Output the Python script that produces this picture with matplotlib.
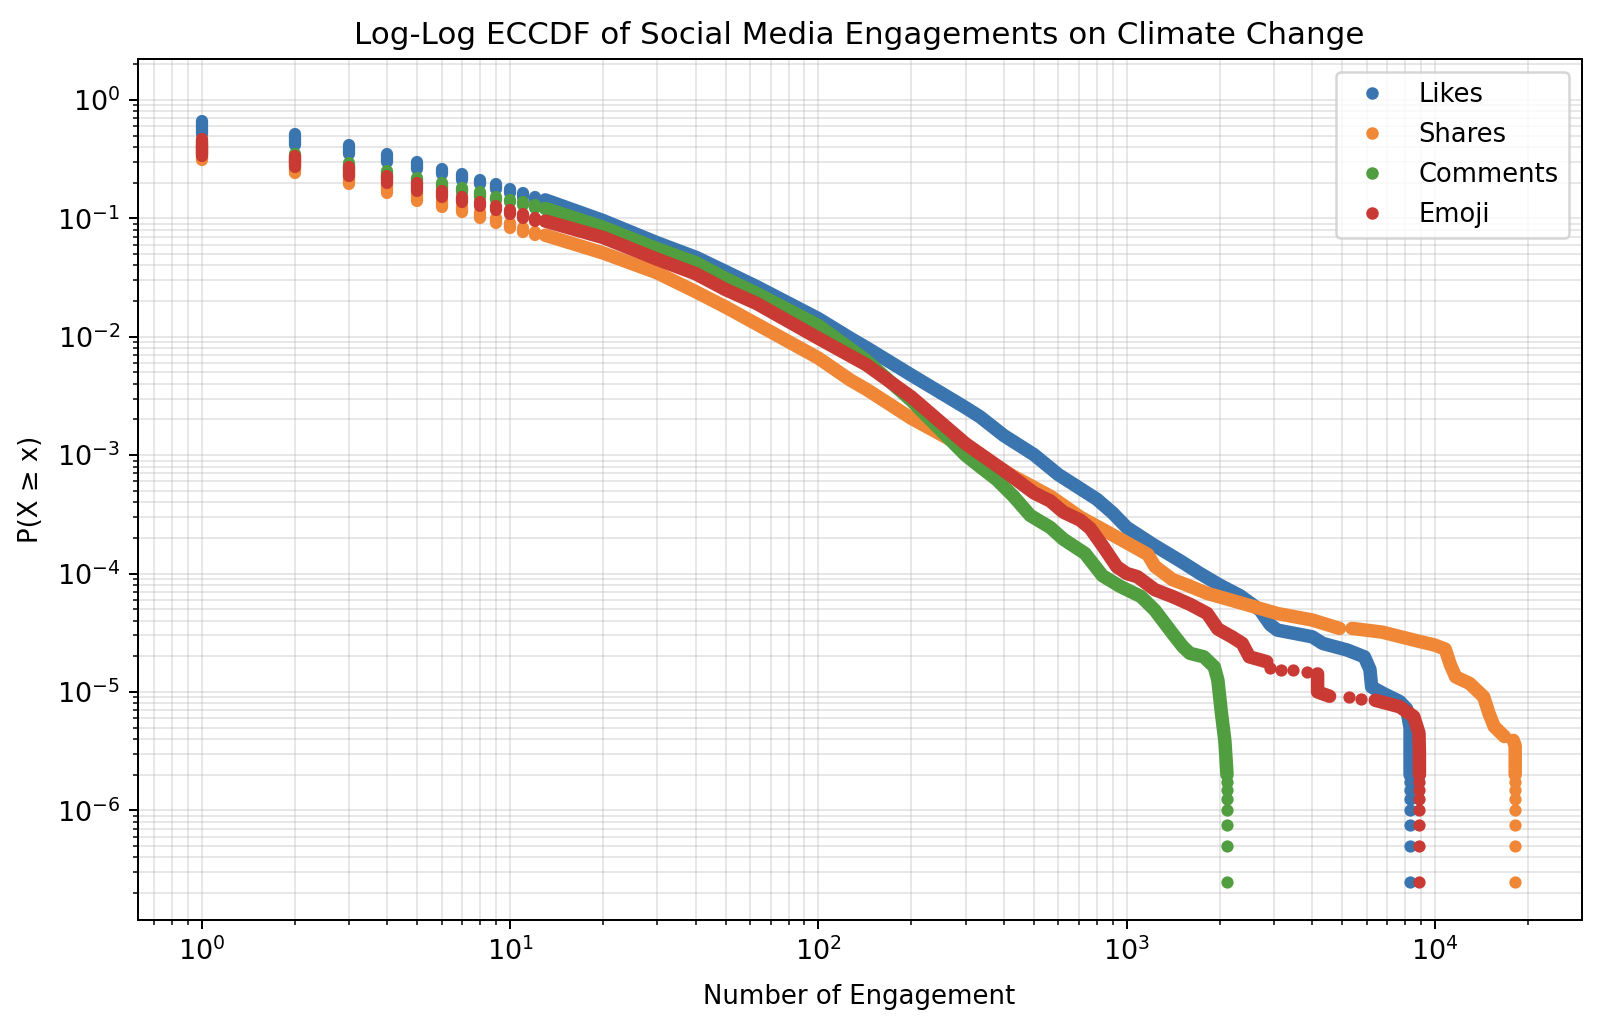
import matplotlib.pyplot as plt
from matplotlib.lines import Line2D

labels = ["Likes", "Shares", "Comments", "Emoji"]
colors = ["#3a75af", "#f08737", "#509e40", "#c83a33"]

# small counts: every integer value forms its own column of points, P(X >= x)
low_x = [1, 2, 3, 4, 5, 6, 7, 8, 9, 10, 11, 12, 13]
likes_low = [0.664, 0.515, 0.416, 0.349, 0.301, 0.261, 0.235, 0.211, 0.195, 0.176, 0.163, 0.152, 0.143]
shares_low = [0.42, 0.311, 0.240, 0.194, 0.163, 0.140, 0.125, 0.112, 0.100, 0.0908, 0.0833, 0.0762, 0.072]
comments_low = [0.45, 0.347, 0.291, 0.251, 0.220, 0.200, 0.181, 0.168, 0.152, 0.143, 0.138, 0.129, 0.121]
emoji_low = [0.465, 0.338, 0.273, 0.229, 0.198, 0.170, 0.152, 0.136, 0.128, 0.117, 0.109, 0.101, 0.0948]

# dense part of each curve (points merge into a band)
likes_x = [13, 20, 30, 40, 50, 63, 100, 127, 143, 200, 300, 334, 400, 500, 600, 700, 800, 900, 1000,
           1220, 1490, 1730, 2000, 2330, 2710, 2920, 3080, 4000, 4320, 5190, 5900, 6150, 6230, 6800,
           7680, 8090, 8300, 8300]
likes_p = [0.143, 0.0958, 0.0621, 0.0469, 0.0355, 0.0265, 0.0142, 0.0097, 0.0081, 0.00475, 0.00252,
           0.00211, 0.00146, 0.00101, 6.85e-4, 5.3e-4, 4.24e-4, 3.25e-4, 2.45e-4, 1.75e-4, 1.28e-4,
           1.0e-4, 8.0e-5, 6.5e-5, 4.9e-5, 3.7e-5, 3.33e-5, 2.92e-5, 2.57e-5, 2.26e-5, 1.98e-5,
           1.55e-5, 1.1e-5, 9.7e-6, 8.3e-6, 7.2e-6, 5.0e-6, 2.0e-6]

shares_x = [[13, 20, 30, 40, 50, 63, 100, 127, 143, 200, 300, 430, 565, 706, 906, 1170, 1234, 1406,
             1566, 1824, 2370, 3077, 3996, 4900],
            [5380, 6740, 8750, 9970, 10790, 11210, 11670, 12950, 14380, 14960, 15560, 16800],
            [17940, 18200, 18200]]
shares_p = [[0.072, 0.051, 0.0346, 0.0240, 0.0178, 0.0128, 0.0066, 0.0043, 0.0036, 0.00205, 1.15e-3,
             6.6e-4, 4.5e-4, 3.0e-4, 2.1e-4, 1.45e-4, 1.15e-4, 8.9e-5, 8.0e-5, 6.8e-5, 5.6e-5,
             4.6e-5, 4.05e-5, 3.44e-5],
            [3.44e-5, 3.2e-5, 2.7e-5, 2.49e-5, 2.3e-5, 1.7e-5, 1.34e-5, 1.18e-5, 9.1e-6, 6.6e-6,
             5.1e-6, 4.2e-6],
            [3.9e-6, 3.5e-6, 2.0e-6]]

comments_x = [13, 20, 30, 40, 50, 63, 100, 143, 200, 300, 334, 379, 429, 486, 565, 623, 732, 834,
              951, 1112, 1234, 1406, 1521, 1603, 1778, 1923, 1975, 2029, 2081, 2115]
comments_p = [0.121, 0.0841, 0.0553, 0.0421, 0.0310, 0.0232, 0.0124, 0.0063, 0.0029, 1.0e-3, 8.0e-4,
              6.2e-4, 4.5e-4, 3.1e-4, 2.45e-4, 1.95e-4, 1.48e-4, 9.6e-5, 7.8e-5, 6.4e-5, 4.9e-5,
              3.13e-5, 2.41e-5, 2.12e-5, 1.98e-5, 1.63e-5, 1.26e-5, 6.6e-6, 3.9e-6, 2.0e-6]

emoji_x = [[13, 20, 30, 40, 50, 63, 100, 143, 200, 300, 400, 500, 565, 623, 706, 761, 840, 929, 1000,
            1083, 1234, 1406, 1603, 1824, 1975, 2193, 2370, 2499, 2846],
           [4160, 4160, 4550],
           [6400, 7680, 8530, 8870, 8900, 8900]]
emoji_p = [[0.0948, 0.0689, 0.0451, 0.0340, 0.0250, 0.0191, 0.0097, 0.0058, 0.0031, 1.25e-3, 7.4e-4,
            4.8e-4, 4.1e-4, 3.3e-4, 2.83e-4, 2.41e-4, 1.68e-4, 1.14e-4, 1.0e-4, 9.4e-5, 7.3e-5,
            6.4e-5, 5.5e-5, 4.6e-5, 3.4e-5, 2.92e-5, 2.57e-5, 1.98e-5, 1.8e-5],
           [1.42e-5, 1.0e-5, 9.2e-6],
           [8.5e-6, 7.5e-6, 6.2e-6, 4.5e-6, 3.0e-6, 2.0e-6]]

# isolated points in the sparse tail
emoji_dots_x = [2923, 3162, 3461, 3843, 5260, 5770]
emoji_dots_p = [1.58e-5, 1.53e-5, 1.53e-5, 1.48e-5, 9.0e-6, 8.8e-6]

# single points at the bottom of each series' largest value
bottom_p = [2.5e-7, 5.0e-7, 7.5e-7, 1.0e-6, 1.25e-6, 1.5e-6, 1.75e-6]
max_x = [8300, 18200, 2115, 8900]

low = [likes_low, shares_low, comments_low, emoji_low]
bands = [([likes_x], [likes_p]), (shares_x, shares_p), ([comments_x], [comments_p]), (emoji_x, emoji_p)]
dots = [([], []), ([], []), ([], []), (emoji_dots_x, emoji_dots_p)]

plt.rcParams["xtick.labelsize"] = 10.8
plt.rcParams["ytick.labelsize"] = 10.8

fig = plt.figure(figsize=(1598 / 180, 1028 / 180), dpi=180)
ax = fig.add_axes([0.0861, 0.1048, 0.9036, 0.8377])

w = 4.9    # point diameter in pt
bw = 5.4   # dense runs of points look slightly thicker
for i in range(4):
    z = 2 + i
    c = colors[i]
    ax.vlines(low_x[:-1], low[i][1:], low[i][:-1], colors=c, linewidth=w, capstyle="round", zorder=z)
    for bx, bp in zip(*bands[i]):
        ax.plot(bx, bp, color=c, lw=bw, solid_capstyle="round", solid_joinstyle="round", zorder=z)
    ax.scatter(dots[i][0], dots[i][1], s=w ** 2, color=c, linewidths=0, zorder=z)
    ax.scatter([max_x[i]] * len(bottom_p), bottom_p, s=w ** 2, color=c, linewidths=0, zorder=z)

ax.set_xscale("log")
ax.set_yscale("log")
ax.set_xlim(0.619, 29870)
ax.set_ylim(1.18e-7, 2.21)
ax.grid(True, which="both", alpha=0.3)
ax.set_axisbelow(True)

ax.set_title("Log-Log ECCDF of Social Media Engagements on Climate Change", fontsize=12.4)
ax.set_xlabel("Number of Engagement", fontsize=10.4, labelpad=7)
ax.set_ylabel("P(X ≥ x)", fontsize=10.4, labelpad=5)

handles = [Line2D([0], [0], marker="o", ls="none", color=c, markersize=4, label=l)
           for c, l in zip(colors, labels)]
ax.legend(handles=handles, loc="upper right", fontsize=10.3, labelspacing=0.54)

fig.savefig("out.png", dpi=180)
